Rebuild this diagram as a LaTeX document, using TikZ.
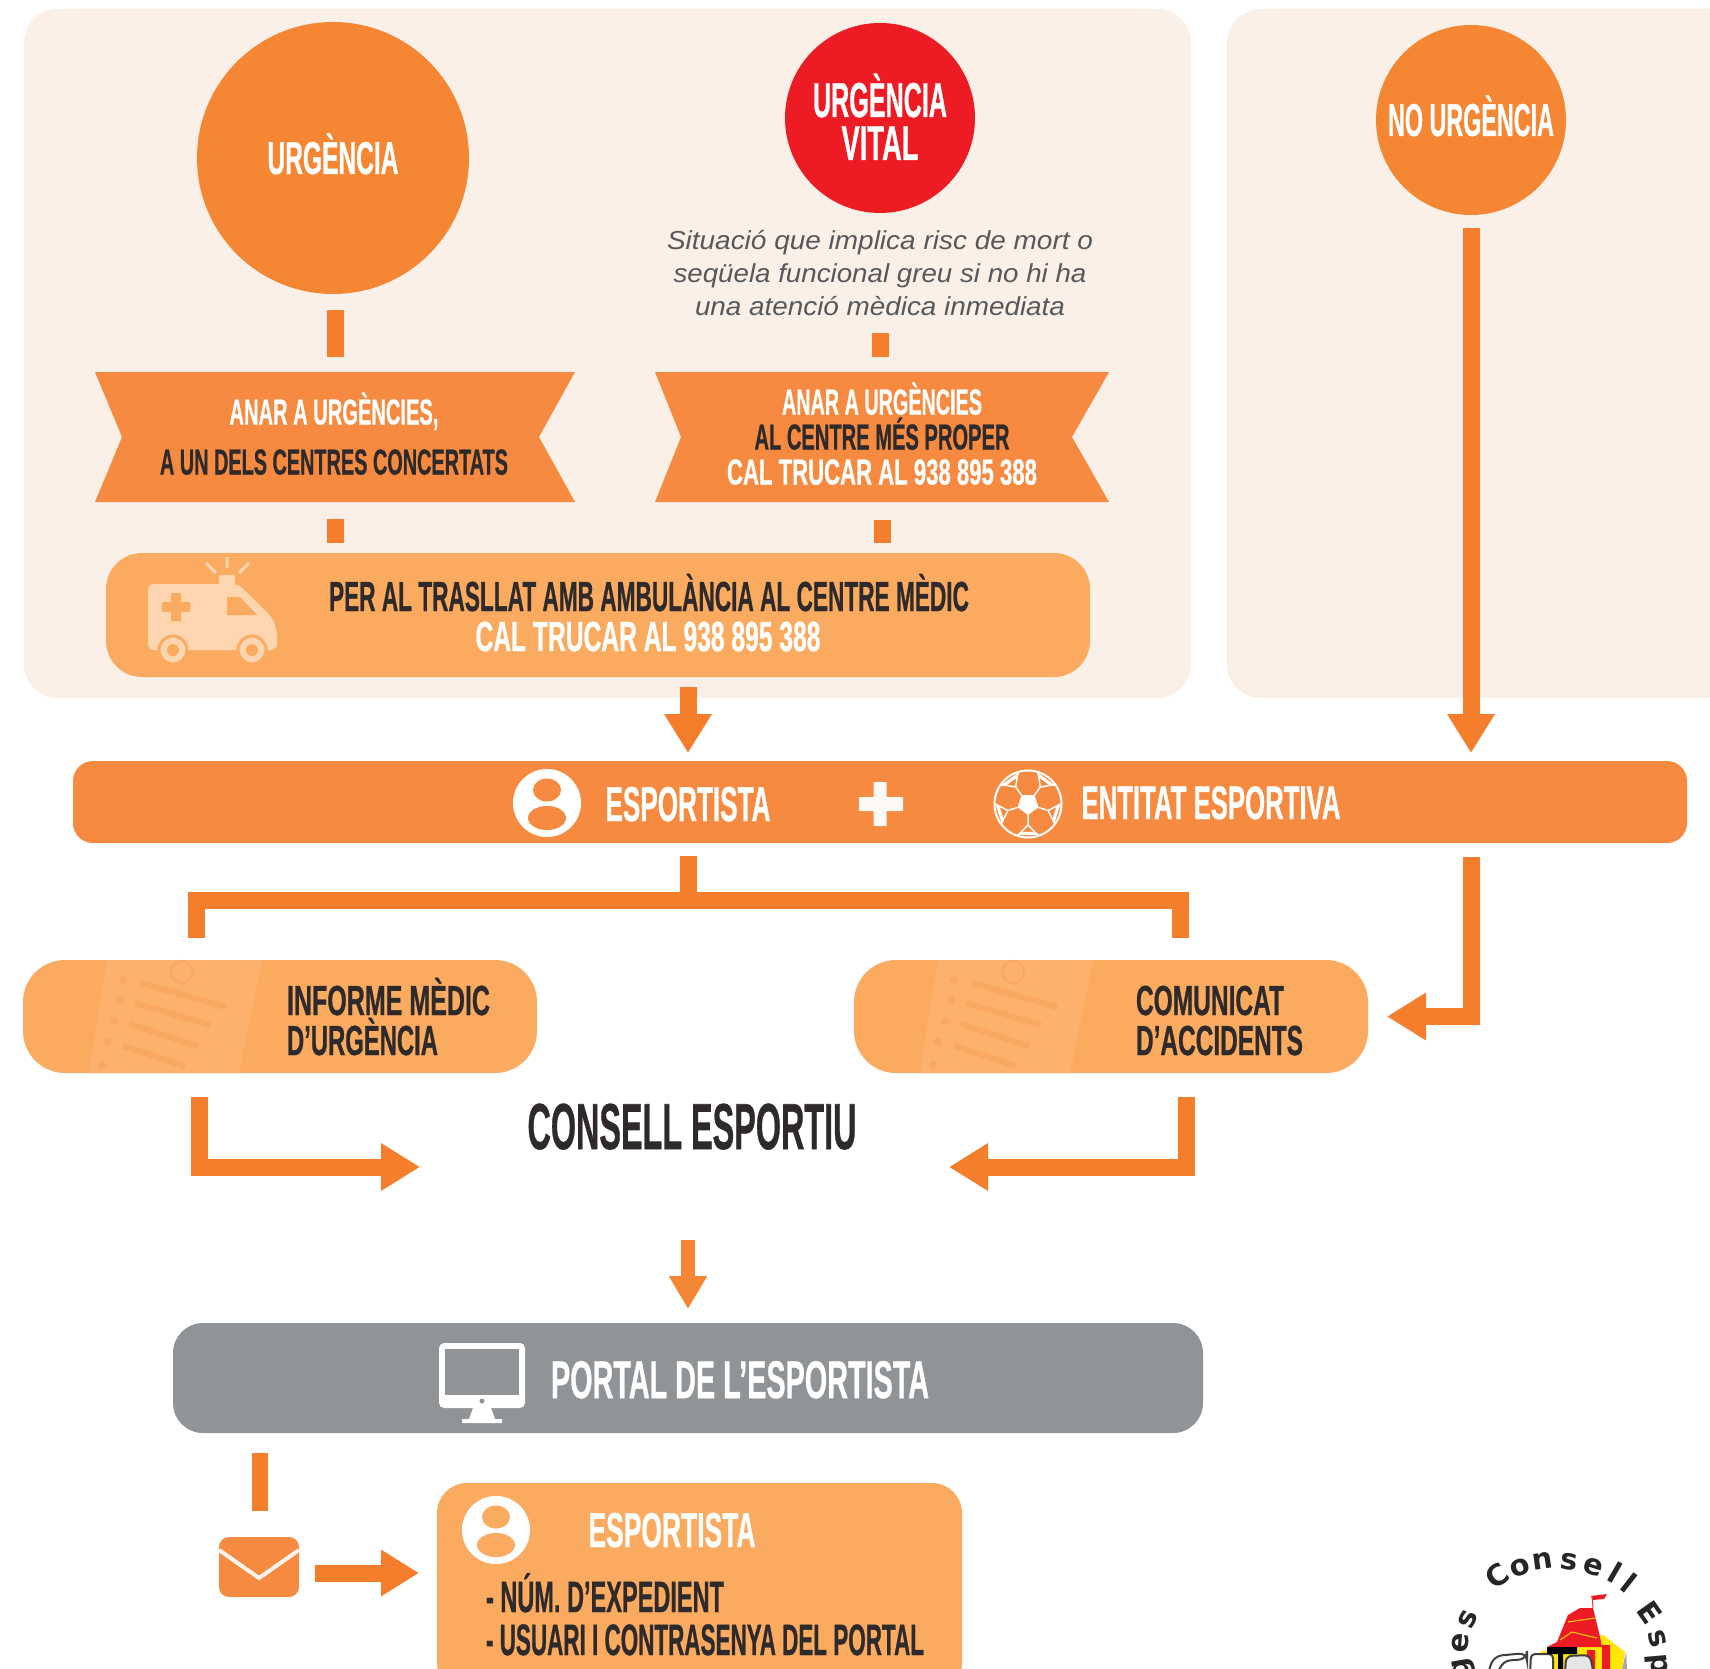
\documentclass[tikz,border=0pt]{standalone}
\usepackage{fontspec}
\usepackage{graphicx}
\usetikzlibrary{arrows.meta,calc}
\setmainfont{Liberation Sans}
\newfontfamily\logofont{DejaVu Sans}
\newfontfamily\heavyfont{Liberation Sans Bold}[FakeBold=0.9]
\definecolor{panelc}{HTML}{FAF0E8}
\definecolor{orc}{HTML}{F58634}
\definecolor{bandc}{HTML}{F58A40}
\definecolor{arrc}{HTML}{F47E2C}
\definecolor{lightc}{HTML}{FBAB60}
\definecolor{lighterc}{HTML}{FCB26C}
\definecolor{doclinec}{HTML}{F9A862}
\definecolor{iconc}{HTML}{FDD5AE}
\definecolor{redc}{HTML}{ED1C24}
\definecolor{grayc}{HTML}{919496}
\definecolor{inkc}{HTML}{2E2A2B}
\definecolor{italc}{HTML}{58585A}
\newcommand\ct[3]{\resizebox{#1pt}{\height}{\heavyfont\fontsize{#2pt}{#2pt}\selectfont #3}}
\newcommand\itl[3]{\resizebox{#1pt}{\height}{\fontsize{#2pt}{#2pt}\selectfont\itshape #3}}
\newcommand\personicon[4]{% x y name fillcolor
  \node[circle,fill=white,inner sep=0,minimum size=68pt] (#3) at (#1,#2) {};
  \fill[#4] (#1,#2) ++(0,-13) ellipse (14pt and 11.5pt);
  \fill[#4] (#1,#2) ++(0,15) ellipse (19pt and 12pt);
}
\newcommand\docicon[1]{%
  \begin{scope}[xshift=#1pt]
    \fill[lighterc] (107,960) -- (262,960) -- (239,1073) -- (89,1073) -- cycle;
    \begin{scope}[line width=6pt,draw=doclinec]
      \draw (141,983) -- (226,1007);
      \draw (135,1003) -- (210,1025);
      \draw (129,1024) -- (198,1046);
      \draw (123,1046) -- (185,1066);
    \end{scope}
    \fill[doclinec] (123,980) circle (4pt) (120,1000) circle (4pt) (114,1021) circle (4pt) (107,1042) circle (4pt) (102,1065) circle (4pt);
    \draw[doclinec,line width=2pt] (182,972) circle (11pt);
  \end{scope}
}
\tikzset{
  x=1pt,y=-1pt,
  txt/.style={anchor=base,inner sep=0,outer sep=0},
  txtl/.style={anchor=base west,inner sep=0,outer sep=0},
  bar/.style={line width=17pt,arrc,line cap=butt,line join=miter},
  arr/.style={bar,-{Triangle[length=39pt,width=45pt]}},
  pill/.style={rectangle,inner sep=0,outer sep=0},
  blank/.style={rectangle,inner sep=0,outer sep=0},
  logoletter/.style={inner sep=0,font=\logofont\bfseries\fontsize{29pt}{29pt}\selectfont,text=black!85},
}
\begin{document}
\begin{tikzpicture}
\useasboundingbox (0,0) rectangle (1710,1669);
\clip (0,0) rectangle (1710,1669);
\fill[white] (0,0) rectangle (1710,1669);
% panels
\node[pill,fill=panelc,rounded corners=34pt,minimum width=1167pt,minimum height=689pt] (panelA) at (607.5,353.5) {};
\node[pill,fill=panelc,rounded corners=34pt,minimum width=600pt,minimum height=689pt] (panelB) at (1527,353.5) {};
% circles
\node[circle,fill=orc,inner sep=0,minimum size=272pt] (urg) at (333,158) {};
\node[circle,fill=redc,inner sep=0,minimum size=190pt] (vital) at (880,118) {};
\node[circle,fill=orc,inner sep=0,minimum size=190pt] (nourg) at (1471,120) {};
\node[txt,white] (urgT) at (333,174) {\ct{131}{46}{URGÈNCIA}};
\node[txt,white] (vitalT1) at (880,117) {\ct{134}{49}{URGÈNCIA}};
\node[txt,white] (vitalT2) at (880,160) {\ct{77}{49}{VITAL}};
\node[txt,white] (nourgT) at (1471,136) {\ct{166}{46}{NO URGÈNCIA}};
% italic
\node[txt,italc] (it1) at (880,250) {\itl{426}{26}{Situació que implica risc de mort o}};
\node[txt,italc] (it2) at (880,283) {\itl{413}{26}{seqüela funcional greu si no hi ha}};
\node[txt,italc] (it3) at (880,316) {\itl{370}{26}{una atenció mèdica inmediata}};
% banners
\node[blank,minimum width=480pt,minimum height=130pt] (banL) at (335,437) {};
\node[blank,minimum width=454pt,minimum height=130pt] (banR) at (882,437) {};
\fill[bandc] (banL.north west) -- (banL.north east) -- ([xshift=-36pt]banL.east) -- (banL.south east) -- (banL.south west) -- ([xshift=27pt]banL.west) -- cycle;
\fill[bandc] (banR.north west) -- (banR.north east) -- ([xshift=-37pt]banR.east) -- (banR.south east) -- (banR.south west) -- ([xshift=26pt]banR.west) -- cycle;
\node[txt,white] (bl1) at (334,424.5) {\ct{209}{36}{ANAR A URGÈNCIES,}};
\node[txt,inkc] (bl2) at (334,474.5) {\ct{348}{36}{A UN DELS CENTRES CONCERTATS}};
\node[txt,white] (br1) at (882,414.5) {\ct{200}{36}{ANAR A URGÈNCIES}};
\node[txt,inkc] (br2) at (882,449.5) {\ct{255}{36}{AL CENTRE MÉS PROPER}};
\node[txt,white] (br3) at (882,484.5) {\ct{310}{36}{CAL TRUCAR AL 938 895 388}};
% small bars
\draw[bar] ([xshift=2pt,yshift=-16pt]urg.south) -- ([yshift=15pt]banL.north);
\draw[bar] ([yshift=-120pt]vital.south) -- ([xshift=-2pt,yshift=15pt]banR.north);
% ambulance box
\node[pill,fill=lightc,rounded corners=36pt,minimum width=984pt,minimum height=124pt] (amb) at (598,615) {};
\draw[bar] ([yshift=-17pt]banL.south) -- ([yshift=10pt]banL.south |- amb.north);
\draw[bar] ([yshift=-18pt]banR.south) -- ([yshift=10pt]banR.south |- amb.north);
\node[txt,inkc] (ambT1) at (649,611) {\ct{640}{42}{PER AL TRASLLAT AMB AMBULÀNCIA AL CENTRE MÈDIC}};
\node[txt,white] (ambT2) at (648,651) {\ct{345}{42}{CAL TRUCAR AL 938 895 388}};
% ambulance icon
\fill[iconc,rounded corners=6pt] (148,650) -- (148,584) -- (238,584) -- (272,617) -- (277,630) -- (277,650) -- cycle;
\fill[lightc] (227,597) -- (240,597) -- (257,615) -- (227,615) -- cycle;
\fill[lightc] (171,593) rectangle (181,621) (162,602) rectangle (190,612);
\fill[iconc] (219,575) rectangle (235,587);
\draw[iconc,line width=3pt] (227,557) -- (227,568) (206,563) -- (216,573) (249,563) -- (239,573);
\fill[iconc,draw=lightc,line width=3pt] (173,650) circle (14pt) (252,650) circle (14pt);
\fill[lightc] (173,650) circle (6pt) (252,650) circle (6pt);
% arrows to band
\node[pill,fill=bandc,rounded corners=20pt,minimum width=1614pt,minimum height=82pt] (band) at (880,802) {};
\coordinate (a1) at (688,687);
\draw[arr,shorten >=8pt] (a1) -- (a1 |- band.north);
\draw[arr,shorten <=13pt,shorten >=8pt] (nourg.south) -- (nourg.south |- band.north);
% band content
\personicon{547}{803}{pA}{bandc}
\node[txt,white] (bandT1) at (688,821) {\ct{165}{49}{ESPORTISTA}};
\fill[white!95!bandc] (873.5,782) rectangle (886.5,826) (859,797) rectangle (903,811);
\node[circle,draw=white,line width=2pt,inner sep=0,minimum size=67pt] (ball) at (1028,804) {};
\begin{scope}[shift={(1028,804)}]
  \fill[white] (90:11) -- (162:11) -- (234:11) -- (306:11) -- (18:11) -- cycle;
  \draw[white,line width=1.5pt] (90:11) -- (90:21) (162:11) -- (162:21) (234:11) -- (234:21) (306:11) -- (306:21) (18:11) -- (18:21);
  \foreach \a in {90,162,234,306,18}{
    \fill[white] (\a-16:29) -- (\a+16:29) -- (\a+20:33) -- (\a-20:33) -- cycle;
    \draw[white,line width=1.5pt] (\a:21) -- (\a+14:29);
    \draw[white,line width=1.5pt] (\a:21) -- (\a-14:29);
  }
\end{scope}
\node[txt,white] (bandT2) at (1211,819) {\ct{259}{47}{ENTITAT ESPORTIVA}};
% branch
\coordinate (bl) at (196,938);
\coordinate (br) at (1180,938);
\coordinate (bm) at (688,900);
\coordinate (bs) at (688,856);
\draw[bar] (bl) |- (bm) -| (br);
\draw[bar] (bs) -- (bm);
% report boxes
\node[pill,fill=lightc,rounded corners=42pt,minimum width=514pt,minimum height=113pt] (inf) at (280,1016.5) {};
\node[pill,fill=lightc,rounded corners=42pt,minimum width=514pt,minimum height=113pt] (com) at (1111,1016.5) {};
\docicon{0}
\docicon{831}
\node[txtl,inkc] (infT1) at (287,1015) {\ct{203}{42}{INFORME MÈDIC}};
\node[txtl,inkc] (infT2) at (287,1055) {\ct{151}{42}{D’URGÈNCIA}};
\node[txtl,inkc] (comT1) at (1136,1015) {\ct{148}{42}{COMUNICAT}};
\node[txtl,inkc] (comT2) at (1136,1055) {\ct{167}{42}{D’ACCIDENTS}};
% right elbow
\coordinate (rb) at (1471,857);
\draw[arr,shorten >=19pt] (rb) |- (com.east);
% consell
\node[txt,inkc] (cons) at (692,1149) {\ct{329}{65}{CONSELL ESPORTIU}};
\coordinate (el) at (199,1097);
\coordinate (elt) at (420,1167);
\coordinate (er) at (1186,1097);
\coordinate (ert) at (949,1167);
\draw[arr] (el) |- (elt);
\draw[arr] (er) |- (ert);
% portal
\node[pill,fill=grayc,rounded corners=30pt,minimum width=1030pt,minimum height=110pt] (portal) at (688,1378) {};
\coordinate (da) at (688,1240);
\draw[bar,line width=14pt,color=orc,-{Triangle[length=33pt,width=36pt]},shorten >=14pt] (da) -- (da |- portal.north);
\fill[white,rounded corners=5pt] (439,1343) rectangle (525,1408);
\fill[grayc] (445,1349) rectangle (519,1395);
\fill[grayc] (482,1401) circle (2.5pt);
\fill[white] (473,1408) -- (491,1408) -- (495,1419) -- (502,1419) -- (502,1423) -- (462,1423) -- (462,1419) -- (469,1419) -- cycle;
\node[txt,white] (portalT) at (740,1398) {\ct{378}{53}{PORTAL DE L’ESPORTISTA}};
% envelope
\node[pill,fill=bandc,rounded corners=10pt,minimum width=80pt,minimum height=60pt] (env) at (259,1567) {};
\draw[white!90!bandc,line width=4pt] (219,1550) -- (259,1578) -- (299,1550);
\coordinate (pb) at (260,1453);
\draw[bar,line width=16pt] (pb) -- (260,1511);
% account box
\node[pill,fill=lightc,rounded corners=30pt,minimum width=525pt,minimum height=210pt] (acc) at (699.5,1588) {};
\coordinate (ea) at (315,1573);
\draw[arr,-{Triangle[length=38pt,width=44pt]}] (ea) -- (419,1573);
\personicon{496}{1530}{pB}{lightc}
\node[txt,white] (accT) at (672,1547) {\ct{167}{49}{ESPORTISTA}};
\node[txtl,inkc] (accT1) at (486,1612) {\ct{238}{44}{- NÚM. D’EXPEDIENT}};
\node[txtl,inkc] (accT2) at (486,1655) {\ct{438}{44}{- USUARI I CONTRASENYA DEL PORTAL}};
% logo
\fill[black!35] (1626,1652) -- (1627,1669) -- (1622,1669) -- cycle;
\fill[yellow!90!orange] (1540,1652) -- (1603,1635) -- (1625,1652) -- (1622,1669) -- (1540,1669) -- cycle;
\fill[redc] (1547,1647) -- (1557,1642) -- (1568,1615) -- (1580,1608) -- (1593,1608) -- (1600,1637) -- (1602,1647) -- (1580,1647) -- cycle;
\draw[yellow!70!orange,line width=1pt] (1568,1622) -- (1595,1618) (1560,1640) -- (1572,1632) -- (1597,1638);
\fill[redc] (1591,1596) -- (1607,1594) -- (1604,1599) -- (1593,1600) -- cycle;
\draw[redc!70!orange,line width=1pt] (1592,1596) -- (1593,1608);
\fill[redc] (1587,1650) rectangle (1595,1669) (1602,1645) rectangle (1610,1669);
\fill[white,draw=black!75,line width=2pt,rounded corners=8pt] (1487,1675) -- (1494,1656) -- (1527,1653) -- (1527,1659) -- (1502,1661) -- (1498,1675) -- cycle;
\fill[white,draw=black!75,line width=2pt,rounded corners=4pt] (1530,1675) -- (1531,1654) -- (1553,1654) -- (1553,1675) -- cycle;
\fill[black!10,draw=black!75,line width=2pt,rounded corners=6pt] (1565,1675) -- (1566,1656) -- (1590,1655) -- (1594,1675) -- cycle;
\fill[black] (1547,1647) rectangle (1577,1654) (1558,1654) rectangle (1563,1669);
\node[logoletter,rotate=35] (lC) at (1497,1576) {C};
\node[logoletter,rotate=20] (lo) at (1520,1568) {o};
\node[logoletter,rotate=8] (ln) at (1543,1561) {n};
\node[logoletter,rotate=-8] (ls) at (1569,1562) {s};
\node[logoletter,rotate=-18] (le) at (1593,1567) {e};
\node[logoletter,rotate=-30] (ll1) at (1615,1572) {l};
\node[logoletter,rotate=-38] (ll2) at (1629,1583) {l};
\node[logoletter,rotate=-55] (lE) at (1650,1613) {E};
\node[logoletter,rotate=-75] (ls2) at (1657,1639) {s};
\node[logoletter,rotate=-85] (lp) at (1656,1664) {p};
\node[logoletter,rotate=65] (ls3) at (1468,1619) {s};
\node[logoletter,rotate=85] (le3) at (1460,1643) {e};
\node[logoletter,rotate=100] (lg) at (1464,1668) {g};
\end{tikzpicture}
\end{document}
